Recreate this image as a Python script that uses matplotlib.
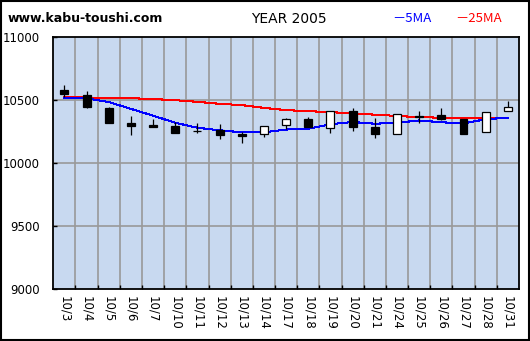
import matplotlib
matplotlib.use('Agg')
import matplotlib.pyplot as plt
from matplotlib.patches import Rectangle

# data
dates = ['10/3', '10/4', '10/5', '10/6', '10/7', '10/10', '10/11', '10/12', '10/13', '10/14',
         '10/17', '10/18', '10/19', '10/20', '10/21', '10/24', '10/25', '10/26', '10/27',
         '10/28', '10/31']
opens = [10578, 10544, 10438, 10322, 10306, 10296, 10258, 10264, 10232, 10230, 10302,
         10350, 10282, 10414, 10286, 10230, 10372, 10384, 10352, 10246, 10414]
closes = [10548, 10450, 10322, 10298, 10290, 10242, 10254, 10226, 10218, 10294, 10350,
          10290, 10414, 10290, 10230, 10390, 10370, 10354, 10234, 10406, 10446]
highs = [10618, 10576, 10446, 10376, 10352, 10326, 10322, 10312, 10248, 10294, 10360,
         10368, 10414, 10440, 10358, 10390, 10414, 10438, 10352, 10406, 10496]
lows = [10530, 10442, 10320, 10226, 10290, 10242, 10244, 10194, 10162, 10210, 10274,
        10290, 10242, 10256, 10200, 10230, 10322, 10344, 10234, 10246, 10414]
ma5 = [10518, 10516, 10486, 10432, 10378, 10322, 10282, 10262, 10246, 10246, 10268,
       10274, 10310, 10328, 10314, 10322, 10340, 10326, 10316, 10350, 10362]
ma25 = [10523, 10522, 10520, 10517, 10510, 10501, 10488, 10472, 10462, 10440, 10422,
        10414, 10406, 10397, 10386, 10376, 10366, 10362, 10358, 10358, 10358]
yticks = [9000, 9500, 10000, 10500, 11000]

fig = plt.figure(figsize=(5.3, 3.41), dpi=100)
ax = fig.add_axes([0.1006, 0.1516, 0.8785, 0.739])
ax.set_facecolor('#c8d9f0')

xs = [i + 0.5 for i in range(len(dates))]

# grid
for k in range(1, len(dates)):
    ax.axvline(k, color='#999999', lw=1.2, zorder=1)
for v in yticks[1:-1]:
    ax.axhline(v, color='#999999', lw=1.2, zorder=1)

# moving averages
ax.plot(xs, ma25, color='red', lw=0.75, zorder=2, antialiased=False)
ax.plot(xs, ma5, color='blue', lw=0.75, zorder=2, antialiased=False)

# candles
for x, o, c, h, l in zip(xs, opens, closes, highs, lows):
    ax.vlines(x, l, h, color='black', lw=0.9, zorder=3)
    fc = 'white' if c > o else 'black'
    ax.bar(x, abs(c - o), bottom=min(o, c), width=0.36, facecolor=fc,
           edgecolor='black', lw=0.9, zorder=4)

ax.set_xlim(0, len(dates))
ax.set_ylim(9000, 11000)
ax.set_yticks(yticks)
ax.set_yticklabels([str(v) for v in yticks], fontsize=8.5)
ax.set_xticks(range(1, len(dates)))
ax.set_xticklabels([])
ax.tick_params(direction='in', length=3, width=1, colors='black')
ax.tick_params(axis='y', pad=10)
for x, d in zip(xs, dates):
    ax.annotate(d, (x, 9000), xytext=(0, -7), textcoords='offset pixels',
                rotation=270, ha='center', va='top', fontsize=8.5)
for s in ax.spines.values():
    s.set_linewidth(1.3)

# header
fig.text(0.015, 0.945, 'www.kabu-toushi.com', fontsize=9, fontweight='bold', va='center')
fig.text(0.545, 0.945, 'YEAR 2005', fontsize=10, ha='center', va='center')
fig.text(0.74, 0.945, '－5MA', color='blue', fontsize=9.5, va='center',
         family=['Noto Sans CJK JP', 'DejaVu Sans'])
fig.text(0.858, 0.945, '－25MA', color='red', fontsize=9.5, va='center',
         family=['Noto Sans CJK JP', 'DejaVu Sans'])

fig.patches.append(Rectangle((0.001, 0.002), 0.997, 0.996, transform=fig.transFigure,
                             fill=False, edgecolor='black', lw=1.5))

fig.savefig('out.png', dpi=100)
